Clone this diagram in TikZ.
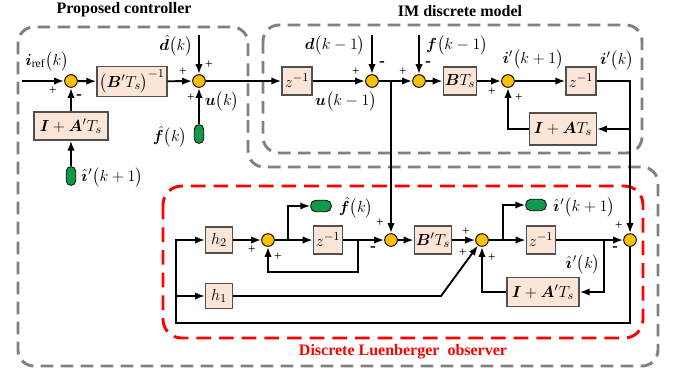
\documentclass[tikz,border=0pt]{standalone}
\usepackage{amsmath,bm}
\usepackage{fontspec}
\setmainfont{Liberation Serif}
\usetikzlibrary{arrows.meta}
\definecolor{boxfill}{HTML}{FBE5D6}
\definecolor{boxline}{HTML}{505050}
\definecolor{sumfill}{HTML}{FFC000}
\definecolor{pillgreen}{HTML}{0E9A48}
\definecolor{regiongray}{HTML}{808080}
\definecolor{regionred}{HTML}{FF0000}
\newcommand{\pa}[1]{\bigl(#1\bigr)}
\newcommand{\ihatp}{\hat{\bm\imath}\mkern1mu{}'}
\tikzset{
  sig/.style={line width=1.4pt},
  arr/.style={sig,-{Latex[length=7.5pt,width=5.5pt]}},
  blk/.style={draw=boxline,line width=0.9pt,fill=boxfill,inner sep=0pt,font=\fontsize{12.5}{14}\selectfont},
  sumc/.style={circle,draw=black,line width=0.7pt,fill=sumfill,minimum size=9.5pt,inner sep=0pt},
  vpill/.style={draw=black,line width=0.6pt,fill=pillgreen,rounded corners=3.3pt,minimum width=7pt,minimum height=14pt,inner sep=0pt},
  hpill/.style={draw=black,line width=0.6pt,fill=pillgreen,rounded corners=3.8pt,minimum width=15.5pt,minimum height=8.5pt,inner sep=0pt},
  lbl/.style={inner sep=0pt,font=\fontsize{12.5}{14}\selectfont},
  pl/.style={inner sep=0pt,font=\fontsize{10}{11}\selectfont},
  mn/.style={inner sep=0pt,font=\fontsize{13}{14}\selectfont\bfseries},
  graydash/.style={draw=regiongray,line width=2.2pt,dash pattern=on 9.5pt off 5.5pt,rounded corners=12pt},
  reddash/.style={draw=regionred,line width=2.2pt,dash pattern=on 11pt off 6pt,rounded corners=14pt},
  ttl/.style={inner sep=0pt,font=\fontsize{12}{14}\selectfont\bfseries}
}
\begin{document}
\begin{tikzpicture}[x=0.75pt,y=-0.75pt]
\useasboundingbox (0,0) rectangle (678,376);

% regions
\draw[graydash] (263,25) rectangle (642,153);
\draw[graydash] (248,120) -- (248,167) -- (658,167) -- (658,366) -- (18,366) -- (18,27) -- (248,27) -- (248,120);
\draw[reddash] (163,186) rectangle (643,338);

% titles
\node[ttl] (t1) at (124,10) {Proposed controller};
\node[ttl] (t2) at (460,11) {IM discrete model};
\node[ttl,text=regionred] (t3) at (403,352) {Discrete Luenberger\ \ observer};

% controller
\coordinate (in) at (22,81);
\node[sumc] (s1) at (71,81) {};
\node[blk,minimum width=52.5pt,minimum height=23pt] (bx1) at (132,81.5) {$\bigl(\bm B'T_s\bigr)^{-1}$};
\node[sumc] (s2) at (199,81) {};
\coordinate (dtop) at (199,35);
\node[vpill] (pf1) at (199,134) {};
\node[blk,minimum width=55.5pt,minimum height=21pt] (ia1) at (71,126) {$\bm I+\bm A'T_s$};
\node[vpill] (pi1) at (71,176) {};

% IM model
\node[blk,minimum width=22.5pt,minimum height=21pt] (z1) at (297,81) {$z^{-1}$};
\node[sumc] (s3) at (372,81) {};
\coordinate (d1top) at (372,35);
\coordinate (j1) at (391,81);
\node[sumc] (s4) at (419,81) {};
\coordinate (f1top) at (419,35);
\node[blk,minimum width=25pt,minimum height=21pt] (bt) at (460,81) {$\bm BT_s$};
\node[sumc] (s5) at (508,81) {};
\node[blk,minimum width=22.5pt,minimum height=21pt] (z2) at (581,81) {$z^{-1}$};
\coordinate (c1) at (630,81);
\coordinate (c2) at (630,129);
\node[blk,minimum width=50pt,minimum height=24pt] (ia2) at (563,129) {$\bm I+\bm AT_s$};

% observer
\node[blk,minimum width=20pt,minimum height=19.5pt] (h2) at (219,240) {$h_2$};
\node[blk,minimum width=20pt,minimum height=19pt] (h1) at (219,296) {$h_1$};
\coordinate (l1) at (176,240);
\coordinate (l2) at (176,296);
\coordinate (l3) at (176,323);
\coordinate (r3) at (630,323);
\node[sumc] (s6) at (268,240) {};
\coordinate (j2) at (288,240);
\node[hpill] (pf2) at (321,206) {};
\node[blk,minimum width=22pt,minimum height=21pt] (z3) at (328,240) {$z^{-1}$};
\coordinate (j3) at (358,240);
\coordinate (j3b) at (358,272);
\node[sumc] (s7) at (391,240) {};
\node[blk,minimum width=28pt,minimum height=21pt] (bp) at (433,240) {$\bm B'T_s$};
\node[sumc] (s8) at (482,240) {};
\coordinate (j4) at (503,240);
\node[hpill] (pi2) at (536,205) {};
\node[blk,minimum width=22pt,minimum height=21pt] (z4) at (541,240) {$z^{-1}$};
\coordinate (j5) at (604,240);
\node[blk,minimum width=54pt,minimum height=22pt] (ia3) at (543,292) {$\bm I+\bm A'T_s$};
\node[sumc] (s9) at (630,240) {};
\coordinate (k1) at (441,296);

% connectors controller
\draw[arr] (in) -- (s1);
\draw[arr] (s1) -- (bx1);
\draw[arr] (bx1) -- (s2);
\draw[arr] (dtop) -- (s2);
\draw[arr] (pf1) -- (s2);
\draw[arr] (ia1) -- (s1);
\draw[arr] (pi1) -- (ia1);
% IM
\draw[arr] (s2) -- (z1);
\draw[arr] (z1) -- (s3);
\draw[arr] (d1top) -- (s3);
\draw[arr] (s3) -- (s4);
\draw[arr] (f1top) -- (s4);
\draw[arr] (s4) -- (bt);
\draw[arr] (bt) -- (s5);
\draw[arr] (s5) -- (z2);
\draw[sig] (z2) -- (c1) -- (c2);
\draw[arr] (c2) -- (ia2);
\draw[arr] (ia2) -| (s5);
\draw[arr] (c2) -- (s9);
\draw[arr] (j1) -- (s7);
% observer
\draw[arr] (s9) -- (r3) -- (l3) -- (l1) -- (h2);
\draw[arr] (l2) -- (h1);
\draw[arr] (h2) -- (s6);
\draw[arr] (s6) -- (z3);
\draw[arr] (j2) |- (pf2);
\draw[arr] (z3) -- (s7);
\draw[arr] (j3) -- (j3b) -| (s6);
\draw[arr] (s7) -- (bp);
\draw[arr] (bp) -- (s8);
\draw[arr] (s8) -- (z4);
\draw[arr] (j4) |- (pi2);
\draw[arr] (z4) -- (s9);
\draw[arr] (j5) |- (ia3);
\draw[arr] (ia3) -| (s8);
\draw[arr] (h1) -- (k1) -- (s8);

% labels
\node[lbl] (L1) at (47,61) {$\bm i_{\mathrm{ref}}\pa{k}$};
\node[lbl] (L2) at (176,46) {$\hat{\bm d}\pa{k}$};
\node[lbl] (L3) at (222,101) {$\bm u\pa{k}$};
\node[lbl] (L4) at (170,137) {$\hat{\bm f}\pa{k}$};
\node[lbl] (L5) at (112,177) {$\ihatp\pa{k+1}$};
\node[lbl] (L6) at (335,45) {$\bm d\pa{k-1}$};
\node[lbl] (L7) at (346,101) {$\bm u\pa{k-1}$};
\node[lbl] (L8) at (457,45) {$\bm f\pa{k-1}$};
\node[lbl] (L9) at (533,59) {$\bm i'\pa{k+1}$};
\node[lbl] (L10) at (617,60) {$\bm i'\pa{k}$};
\node[lbl] (L11) at (356,208) {$\hat{\bm f}\pa{k}$};
\node[lbl] (L12) at (584,207) {$\ihatp\pa{k+1}$};
\node[lbl] (L13) at (583,264) {$\ihatp\pa{k}$};

% signs
\node[pl] (p1) at (53,91) {+};
\node[mn] (m1) at (79,97) {-};
\node[pl] (p2) at (183,72) {+};
\node[pl] (p3) at (209,65) {+};
\node[pl] (p4) at (191,98) {+};
\node[pl] (p5) at (356,72) {+};
\node[mn] (m2) at (382,64) {-};
\node[pl] (p6) at (403,72) {+};
\node[mn] (m3) at (428,64) {-};
\node[pl] (p7) at (492,92) {+};
\node[pl] (p8) at (519,98) {+};
\node[pl] (p9) at (252,250) {+};
\node[pl] (p10) at (278,257) {+};
\node[mn] (m4) at (373,249) {-};
\node[pl] (p11) at (380,223) {+};
\node[pl] (p12) at (466,232) {+};
\node[pl] (p13) at (463,253) {+};
\node[pl] (p14) at (492,258) {+};
\node[pl] (p15) at (619,226) {+};
\node[mn] (m5) at (615,249) {-};
\end{tikzpicture}
\end{document}
